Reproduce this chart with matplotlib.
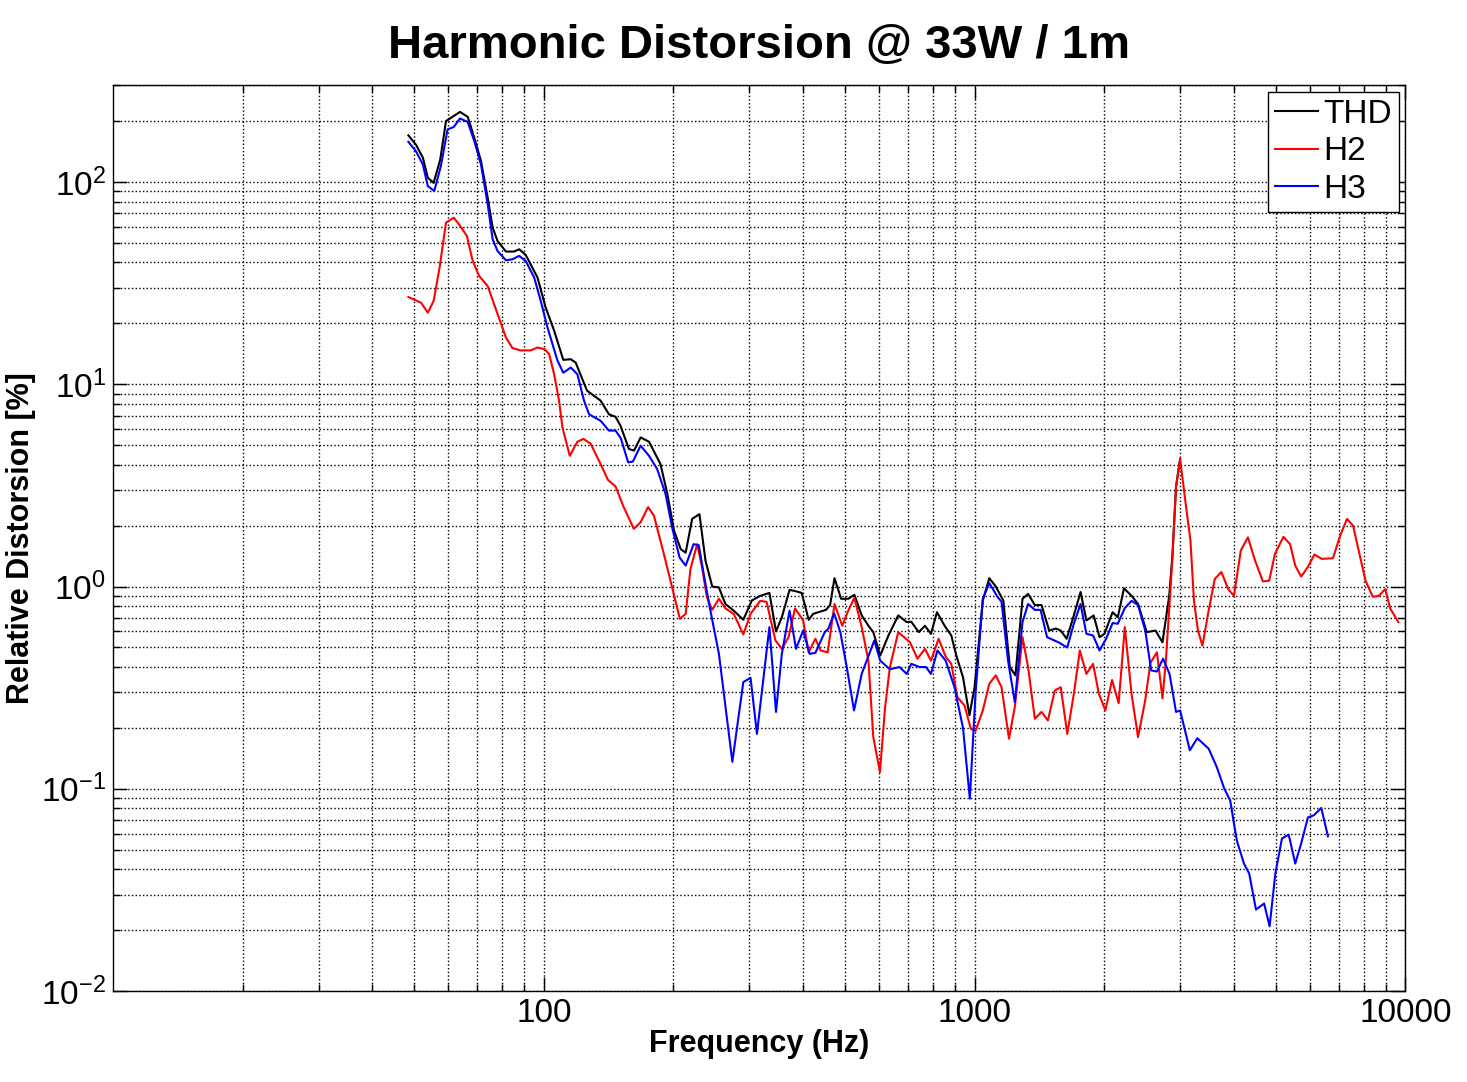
import matplotlib
matplotlib.use("Agg")
import matplotlib.pyplot as plt
from matplotlib.ticker import LogLocator, NullFormatter

# THD (black)
thd_f = [48.5, 50.5, 52.4, 53.8, 55.5, 57.5, 59.3, 61.4, 63.9, 66.6, 69, 71.5, 74.1, 76.1,
         78.1, 81.7, 85.3, 87.7, 90.8, 96.7, 101, 105.7, 111, 115.5, 118.6, 126, 135.5,
         141.7, 146.8, 150.7, 157.6, 162, 167.8, 175.5, 186.6, 193.6, 200.6, 208, 213.5,
         221, 229.8, 237.4, 246.1, 255, 264, 276, 290.5, 304, 318, 334, 346, 357, 372,
         383, 397, 412, 422, 452, 462, 473, 490, 509, 526, 547, 567, 582, 604, 631, 665,
         696, 713, 742, 767, 792, 818, 852, 883, 907, 940, 973, 1000, 1045, 1082, 1120,
         1166, 1207, 1244, 1292, 1331, 1380, 1430, 1490, 1545, 1585, 1636, 1700, 1762,
         1818, 1890, 1950, 2002, 2091, 2150, 2222, 2314, 2396, 2510, 2630, 2730, 2830,
         2877, 2935, 3000]
thd_v = [170, 153, 132, 105, 99, 129, 200, 210, 222, 210, 165, 127, 83.6, 59.5,
         51.1, 45.3, 45.3, 46.5, 43.6, 33.7, 24, 18.4, 13.2, 13.3, 12.8, 9.3, 8.3,
         7.1, 6.9, 6.24, 4.79, 4.7, 5.46, 5.2, 4.03, 2.87, 1.89, 1.53, 1.47,
         2.16, 2.28, 1.34, 1.0, 0.99, 0.82, 0.76, 0.685, 0.853, 0.9, 0.93, 0.6, 0.705, 0.963,
         0.95, 0.93, 0.685, 0.733, 0.767, 0.81, 1.10, 0.87, 0.87, 0.91, 0.72, 0.64, 0.595, 0.456, 0.573, 0.72,
         0.667, 0.67, 0.595, 0.64, 0.584, 0.747, 0.64, 0.573, 0.456, 0.356, 0.231, 0.318, 0.853, 1.10, 1.0,
         0.853, 0.4, 0.364, 0.87, 0.92, 0.81, 0.81, 0.606, 0.62, 0.606, 0.552, 0.72, 0.94,
         0.68, 0.72, 0.562, 0.584, 0.747, 0.705, 0.98, 0.9, 0.82, 0.595, 0.606, 0.53, 0.9,
         1.4, 3.11, 4.27]

# H2 (red)
h2_f = [48.5, 51.9, 53.8, 55.5, 57.3, 59.3, 61.8, 63.6, 66.3, 68.4, 70.8, 74.1, 77.4, 81.7,
        84.6, 88.4, 93.3, 96.7, 100.5, 102.9, 105.7, 108.5, 110.5, 114.9, 119.7, 123.6, 128.5,
        135.5, 140.9, 146.8, 153.3, 161.8, 167.8, 174.6, 180.2, 190, 198.6, 207, 213.5, 219,
        227, 233, 239, 246, 255, 264, 276, 290.5, 302, 318, 329, 345, 357, 370, 383, 400,
        412, 427, 439, 456, 473, 493, 509, 526, 547, 567, 582, 603, 620, 636, 665, 708, 737,
        767, 792, 825, 857, 883, 912, 948, 980, 1005, 1045, 1082, 1120, 1155, 1202, 1240,
        1292, 1331, 1380, 1430, 1480, 1535, 1585, 1641, 1700, 1755, 1818, 1884, 1943, 2012,
        2085, 2160, 2232, 2314, 2396, 2490, 2560, 2650, 2730, 2780, 2877, 2935, 3000, 3070,
        3170, 3230, 3300, 3380, 3494, 3610, 3740, 3880, 4000, 4150, 4310, 4480, 4670, 4830,
        4980, 5210, 5400, 5550, 5730, 5940, 6150, 6400, 6790, 7060, 7320, 7560, 7840, 8080,
        8400, 8670, 8980, 9220, 9630]
h2_v = [27, 25.3, 22.6, 25.8, 37.7, 63, 66.6, 61.7, 54.1, 40.7, 34.3, 30.6, 23.5, 17.0,
        15.1, 14.7, 14.7, 15.2, 14.9, 14.1, 11.2, 8.3, 6.12, 4.43, 5.2, 5.37, 5.08,
        4.03, 3.37, 3.12, 2.47, 1.93, 2.08, 2.47, 2.24, 1.45, 0.99, 0.692, 0.733, 1.22,
        1.62, 1.25, 0.89, 0.767, 0.87, 0.78, 0.733, 0.58, 0.733, 0.85, 0.84, 0.541, 0.492, 0.562, 0.78, 0.68,
        0.473, 0.552, 0.483, 0.473, 0.82, 0.64, 0.76, 0.88, 0.63, 0.43, 0.18, 0.121, 0.254, 0.4, 0.595, 0.53, 0.44,
        0.492, 0.43, 0.552, 0.45, 0.415, 0.284, 0.258, 0.198, 0.193, 0.244, 0.331, 0.364, 0.318, 0.177, 0.254,
        0.562, 0.4, 0.222, 0.24, 0.218, 0.306, 0.318, 0.187, 0.295, 0.483, 0.37, 0.415, 0.295, 0.244,
        0.345, 0.265, 0.63, 0.295, 0.18, 0.275, 0.42, 0.473, 0.28, 0.43, 1.34, 3.11, 4.27, 2.87,
        1.69, 0.853, 0.606, 0.51, 0.76, 1.09, 1.18, 0.97, 0.9, 1.51, 1.75, 1.34, 1.06, 1.07,
        1.45, 1.76, 1.62, 1.27, 1.12, 1.25, 1.44, 1.37, 1.38, 1.79, 2.16, 2.0, 1.42, 1.07,
        0.89, 0.9, 0.97, 0.78, 0.667]

# H3 (blue)
h3_f = [48.5, 50.5, 52.4, 53.8, 55.7, 57.7, 59.8, 61.8, 63.9, 66.6, 69, 71.5, 74.1, 76.1,
        78.1, 81.7, 84.6, 87.7, 90.8, 95, 98.4, 102, 107.6, 111, 115.5, 119.7, 124, 127.4,
        135.5, 141.7, 146.8, 151, 157, 161, 167.8, 175.5, 183.3, 191.7, 198.6, 206.7, 213.5,
        222.7, 229, 235, 242, 255, 274, 290.5, 302, 312.5, 334, 346, 357, 372, 385, 400, 414,
        427, 449, 458, 472, 488, 505, 525, 547, 585, 604, 636, 669, 696, 713, 745, 771, 792,
        820, 857, 898, 940, 975, 1005, 1045, 1082, 1130, 1155, 1196, 1240, 1292, 1331, 1380,
        1423, 1473, 1566, 1641, 1700, 1762, 1818, 1884, 1950, 2020, 2091, 2150, 2232, 2314,
        2396, 2490, 2570, 2650, 2738, 2835, 2935, 3000, 3160, 3288, 3494, 3650, 3800, 3920,
        4060, 4220, 4340, 4500, 4700, 4840, 4990, 5170, 5360, 5550, 5730, 5940, 6130, 6380, 6610]
h3_v = [158, 142, 122, 95.5, 90.3, 120, 182, 187, 206, 198, 159, 122, 77.6, 52,
        45.6, 41, 41.5, 43.1, 40.7, 33.7, 25.8, 19.1, 13.1, 11.4, 12.1, 11.2, 8.3, 7.1,
        6.6, 5.9, 5.9, 5.4, 4.11, 4.15, 4.97, 4.43, 3.81, 2.87, 1.96, 1.39, 1.27,
        1.62, 1.6, 1.16, 0.82, 0.465, 0.136, 0.337, 0.354, 0.187, 0.63, 0.24, 0.465, 0.76, 0.492, 0.606, 0.465,
        0.47, 0.595, 0.62, 0.738, 0.595, 0.4, 0.244, 0.37, 0.541, 0.43, 0.39, 0.4, 0.37, 0.415, 0.4, 0.4, 0.37,
        0.483, 0.43, 0.318, 0.2, 0.0895, 0.295, 0.87, 1.04, 0.89, 0.84, 0.43, 0.268, 0.667, 0.82, 0.767,
        0.767, 0.562, 0.53, 0.5, 0.655, 0.82, 0.584, 0.573, 0.483, 0.552, 0.66, 0.655, 0.782, 0.85,
        0.81, 0.606, 0.385, 0.38, 0.44, 0.37, 0.24, 0.244, 0.155, 0.178, 0.158, 0.128, 0.1, 0.0877,
        0.0557, 0.0427, 0.0381, 0.0253, 0.0271, 0.0209, 0.0381, 0.0568, 0.0594, 0.0427, 0.0537, 0.0722, 0.074, 0.0804, 0.0582]

plt.rcParams['font.family'] = ['Liberation Sans', 'DejaVu Sans']
plt.rcParams['mathtext.fontset'] = 'custom'
plt.rcParams['mathtext.rm'] = 'Liberation Sans'

fig = plt.figure(figsize=(14.67, 10.82), dpi=100)
ax = fig.add_axes([0.077, 0.084, 0.881, 0.837])

ax.loglog(thd_f, thd_v, color='black', lw=1.5, label='THD')
ax.loglog(h2_f, h2_v, color='red', lw=1.5, label='H2')
ax.loglog(h3_f, h3_v, color='blue', lw=1.5, label='H3')

ax.set_xlim(10, 10000)
ax.set_ylim(0.01, 300)

ax.xaxis.set_minor_locator(LogLocator(base=10, subs=range(2, 10), numticks=20))
ax.yaxis.set_minor_locator(LogLocator(base=10, subs=range(2, 10), numticks=20))
ax.xaxis.set_minor_formatter(NullFormatter())
ax.yaxis.set_minor_formatter(NullFormatter())
ax.set_xticks([100, 1000, 10000])
ax.set_xticklabels(['100', '1000', '10000'])

ax.grid(True, which='both', color='black', linestyle=':', linewidth=1.0)
ax.tick_params(which='both', direction='in', top=True, right=True, labelsize=24, width=1)
ax.tick_params(which='major', length=10, pad=5)
ax.tick_params(which='minor', length=5)
for s in ax.spines.values():
    s.set_linewidth(1.0)

ax.set_title('Harmonic Distorsion @ 33W / 1m', fontsize=34, fontweight='bold', pad=20)
ax.set_xlabel('Frequency (Hz)', fontsize=22, fontweight='bold', labelpad=0)
ax.set_ylabel('Relative Distorsion [%]', fontsize=22, fontweight='bold', labelpad=4)

leg = ax.legend(loc='upper right', fontsize=24, fancybox=False, framealpha=1,
                edgecolor='black', handlelength=1.3, handletextpad=0.15,
                borderpad=0.2, labelspacing=0.2, borderaxespad=0.2)
leg.get_frame().set_linewidth(1.0)

fig.savefig('out.png', dpi=100)
